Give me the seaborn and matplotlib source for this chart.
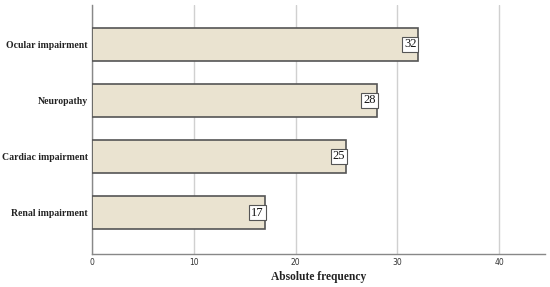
import matplotlib
matplotlib.use("Agg")
import matplotlib.pyplot as plt
import seaborn as sns
import pandas as pd

categories = ['Ocular impairment', 'Neuropathy', 'Cardiac impairment', 'Renal impairment']
counts = [32, 28, 25, 17]
xticks = [0, 10, 20, 30, 40]

df = pd.DataFrame({'condition': categories, 'count': counts})

sns.set_style('white')

fig = plt.figure(figsize=(5.5, 2.87), dpi=100)
ax = fig.add_axes([0.167, 0.115, 0.824, 0.868])

sns.barplot(data=df, y='condition', x='count', orient='h', ax=ax,
            color='#EAE3D0', edgecolor='#555555', linewidth=1.2,
            width=0.59, saturation=1, zorder=3)

ax.set_xlim(0, 44.5)
ax.set_ylim(3.74, -0.705)
ax.set_xticks(xticks)
ax.set_xticklabels([str(t) for t in xticks], fontsize=5.5, color='#333333',
                   family='DejaVu Sans')
ax.tick_params(axis='y', length=0, pad=3)
ax.tick_params(axis='x', length=0, pad=3)
for lab in ax.get_yticklabels():
    lab.set_family('Liberation Serif')
    lab.set_fontweight('bold')
    lab.set_fontsize(7.0)
    lab.set_color('#222222')

ax.grid(axis='x', color='#d0d0d0', linewidth=1, zorder=0)
ax.set_axisbelow(True)
for side in ['top', 'right']:
    ax.spines[side].set_visible(False)
for side in ['left', 'bottom']:
    ax.spines[side].set_color('#888888')
    ax.spines[side].set_linewidth(1)

ax.set_ylabel('')
ax.set_xlabel('Absolute frequency', family='Liberation Serif', fontweight='bold',
              fontsize=8.3, color='#222222', labelpad=3)

for i, v in enumerate(counts):
    ax.text(v - 0.12, i, str(v), ha='right', va='center', fontsize=9,
            family='Liberation Serif', color='#111111', zorder=5,
            bbox=dict(boxstyle='square,pad=0.15', facecolor='white',
                      edgecolor='#555555', linewidth=0.8))

fig.savefig('out.png', dpi=100, facecolor='white')
